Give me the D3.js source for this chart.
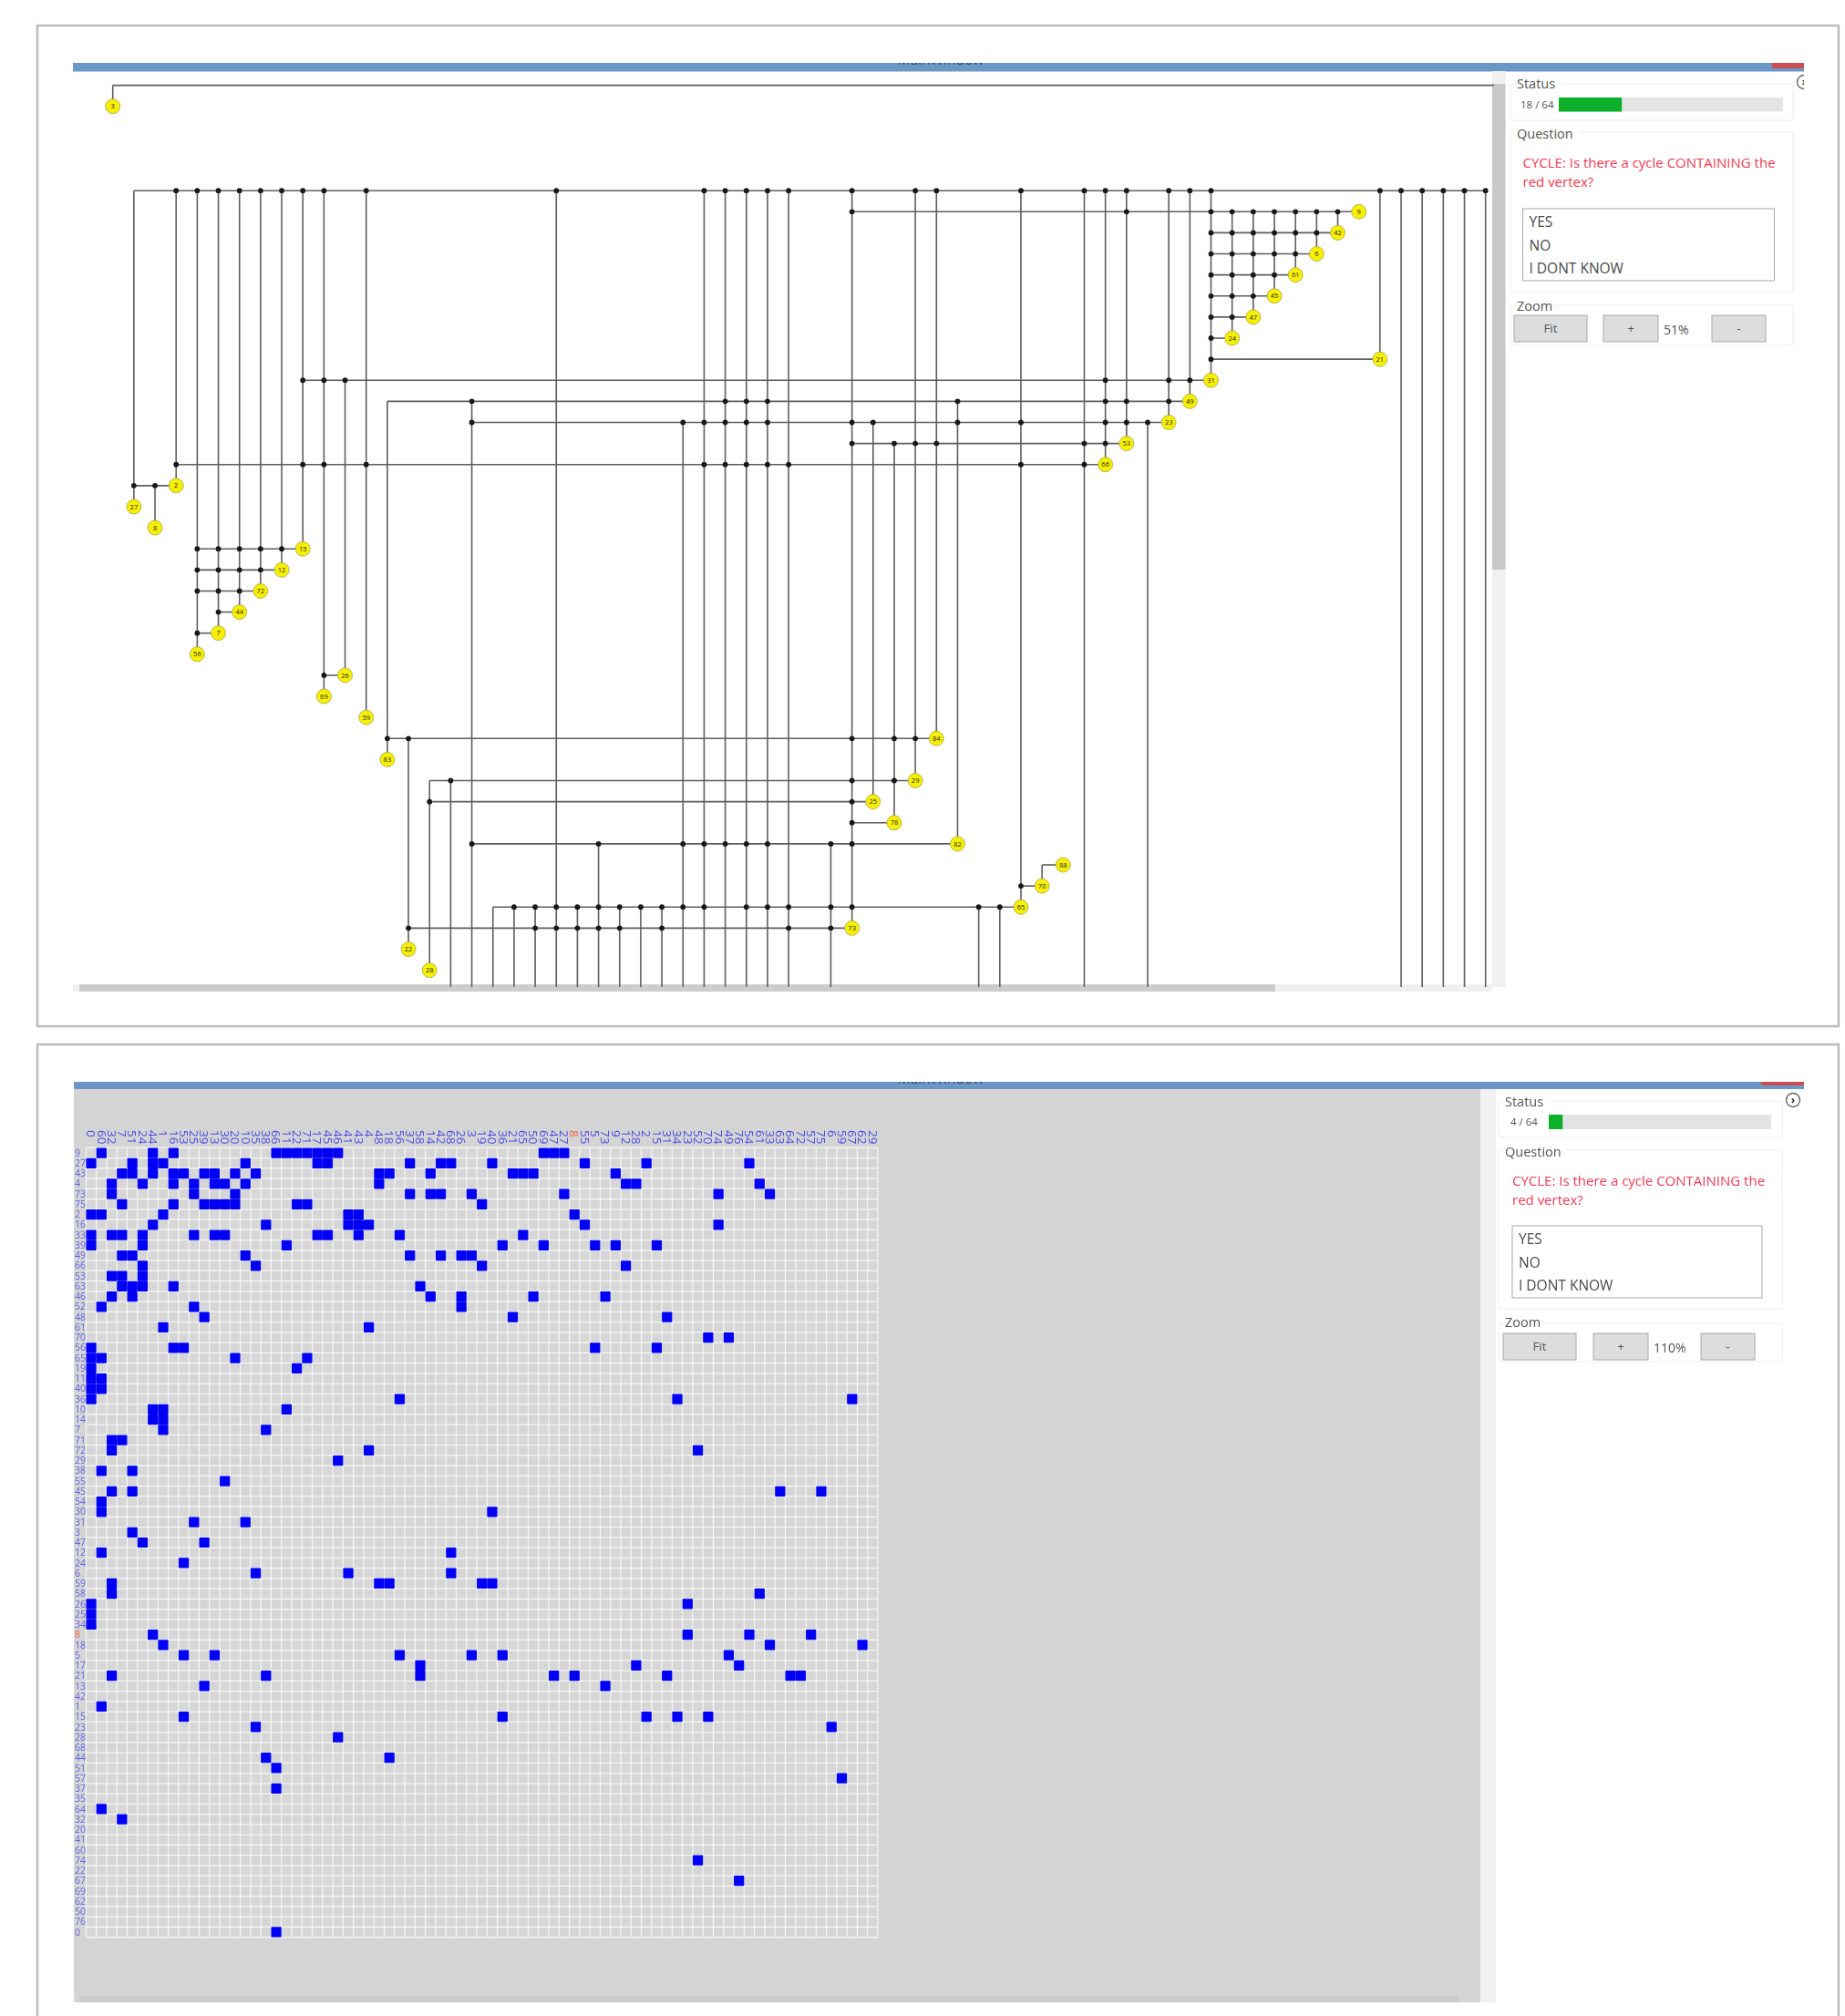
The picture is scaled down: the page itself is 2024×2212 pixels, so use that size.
<!DOCTYPE html>
<html>
<head>
<meta charset="utf-8">
<style>
  html, body { margin: 0; background: #fff; }
  svg { display: block; filter: blur(0.75px); font-family: "Open Sans", "Noto Sans", sans-serif; }
</style>
<script src="https://cdn.jsdelivr.net/npm/d3@7"></script>
</head>
<body>
<script>
// bottom row where the long wires run under the scrollbar
const cut = 41.8;

// graph nodes: label, column, row
const graphNodes = [
  ["3", 0, 0], ["27", 1, 19], ["8", 2, 20], ["2", 3, 18], ["56", 4, 26], ["7", 5, 25], ["44", 6, 24],
  ["72", 7, 23], ["12", 8, 22], ["15", 9, 21], ["69", 10, 28], ["26", 11, 27], ["59", 12, 29], ["83", 13, 31],
  ["22", 14, 40], ["28", 15, 41], ["73", 35, 39], ["25", 36, 33], ["78", 37, 34], ["29", 38, 32], ["84", 39, 30],
  ["82", 40, 35], ["65", 43, 38], ["70", 44, 37], ["88", 45, 36], ["66", 47, 17], ["53", 48, 16], ["23", 50, 15],
  ["49", 51, 14], ["31", 52, 13], ["24", 53, 11], ["47", 54, 10], ["45", 55, 9], ["61", 56, 8], ["6", 57, 7],
  ["42", 58, 6], ["9", 59, 5], ["21", 60, 12],
];

// horizontal wires: row, from column, to column
const hWires = [
  [-1, 0, 65.4], [4, 1, 65], [5, 35, 59], [6, 52, 58], [7, 52, 57], [8, 52, 56], [9, 52, 55], [10, 52, 54],
  [11, 52, 53], [12, 52, 60], [13, 9, 52], [14, 13, 51], [15, 17, 50], [16, 35, 48], [17, 3, 47], [18, 1, 3],
  [21, 4, 9], [22, 4, 8], [23, 4, 7], [24, 5, 6], [25, 4, 5], [27, 10, 11], [30, 13, 39], [32, 15, 38],
  [33, 15, 36], [34, 35, 37], [35, 17, 40], [36, 44, 45], [37, 43, 44], [38, 18, 43], [39, 14, 35],
];

// vertical wires: column, from row, to row
const vWires = [
  [0, -1, 0], [1, 4, 19], [2, 18, 20], [3, 4, 18], [4, 4, 26], [5, 4, 25], [6, 4, 24], [7, 4, 23], [8, 4, 22],
  [9, 4, 21], [10, 4, 28], [11, 13, 27], [12, 4, 29], [13, 14, 31], [14, 30, 40], [15, 32, 41], [16, 32, cut],
  [17, 14, cut], [18, 38, cut], [19, 38, cut], [20, 38, cut], [21, 4, cut], [22, 38, cut], [23, 35, cut],
  [24, 38, cut], [25, 38, cut], [26, 38, cut], [27, 15, cut], [28, 4, cut], [29, 4, cut], [30, 4, cut],
  [31, 4, cut], [32, 4, cut], [34, 35, cut], [35, 4, 39], [36, 15, 33], [37, 16, 34], [38, 4, 32], [39, 4, 30],
  [40, 14, 35], [41, 38, cut], [42, 38, cut], [43, 4, 38], [44, 36, 37], [46, 4, cut], [47, 4, 17], [48, 4, 16],
  [49, 15, cut], [50, 4, 15], [51, 4, 14], [52, 4, 13], [53, 5, 11], [54, 5, 10], [55, 5, 9], [56, 5, 8],
  [57, 5, 7], [58, 5, 6], [60, 4, 12], [61, 4, cut], [62, 4, cut], [63, 4, cut], [64, 4, cut], [65, 4, cut],
];

// junction dots: row, columns
const junctions = [
  [4, [3, 4, 5, 6, 7, 8, 9, 10, 12, 21, 28, 29, 30, 31, 32, 35, 38, 39, 43, 46, 47, 48, 50, 51, 52, 60, 61, 62, 63, 64, 65]],
  [5, [35, 48, 52, 53, 54, 55, 56, 57, 58]],
  [6, [52, 53, 54, 55, 56, 57]],
  [7, [52, 53, 54, 55, 56]],
  [8, [52, 53, 54, 55]],
  [9, [52, 53, 54]],
  [10, [52, 53]],
  [11, [52]],
  [12, [52]],
  [13, [9, 10, 11, 47, 50, 51]],
  [14, [17, 29, 30, 31, 40, 47, 48, 50]],
  [15, [17, 27, 28, 29, 30, 31, 35, 36, 40, 43, 47, 48, 49]],
  [16, [35, 37, 38, 39, 46, 47]],
  [17, [3, 9, 10, 12, 28, 29, 30, 31, 32, 43, 46]],
  [18, [1, 2]],
  [21, [4, 5, 6, 7, 8]],
  [22, [4, 5, 6, 7]],
  [23, [4, 5, 6]],
  [24, [5]],
  [25, [4]],
  [27, [10]],
  [30, [13, 14, 35, 37, 38]],
  [32, [16, 35, 37]],
  [33, [15, 35]],
  [34, [35]],
  [35, [17, 23, 27, 28, 29, 30, 31, 34, 35]],
  [37, [43]],
  [38, [19, 20, 21, 22, 23, 24, 25, 26, 27, 28, 30, 31, 32, 34, 35, 41, 42]],
  [39, [14, 20, 21, 22, 23, 24, 26, 32, 34]],
];

// matrix labels, read as well as the blur allows
const colLabels = ["0","60","32","7","51","24","44","1","16","53","25","39","13","30","20","10","35","38","66","11","22","71","17","45","46","41","43","4","48","18","56","37","58","14","42","68","26","3","19","40","36","21","65","50","69","47","27","8","55","5","73","9","12","28","2","15","31","34","23","52","70","74","49","76","54","61","33","63","64","72","57","75","6","59","67","62","29"];
const rowLabels = ["9","27","43","4","73","75","2","16","33","39","49","66","53","63","46","52","48","61","70","56","65","19","11","40","36","10","14","7","71","72","29","38","55","45","54","30","31","3","47","12","24","6","59","58","26","25","34","8","18","5","17","21","13","42","1","15","23","28","68","44","51","57","37","35","64","32","20","41","60","74","22","67","69","62","50","76","0"];
const redIndex = 47;

// filled matrix cells: row, columns
const matrixCells = [
  [0, [1, 6, 8, 18, 19, 20, 21, 22, 23, 24, 44, 45, 46]],
  [1, [0, 4, 6, 7, 15, 22, 23, 31, 34, 35, 39, 48, 54, 64]],
  [2, [3, 4, 6, 8, 9, 11, 12, 14, 16, 28, 29, 33, 41, 42, 43, 51]],
  [3, [2, 5, 8, 10, 12, 13, 15, 28, 52, 53, 65]],
  [4, [2, 10, 14, 31, 33, 34, 37, 46, 61, 66]],
  [5, [3, 8, 11, 12, 13, 14, 20, 21, 38]],
  [6, [0, 1, 7, 25, 26, 47]],
  [7, [6, 17, 25, 26, 27, 48, 61]],
  [8, [0, 2, 3, 5, 10, 12, 13, 22, 23, 26, 30, 42]],
  [9, [0, 5, 19, 40, 44, 49, 51, 55]],
  [10, [3, 4, 15, 31, 34, 36, 37]],
  [11, [5, 16, 38, 52]],
  [12, [2, 3, 5]],
  [13, [3, 4, 5, 8, 32]],
  [14, [2, 4, 33, 36, 43, 50]],
  [15, [1, 10, 36]],
  [16, [11, 41, 56]],
  [17, [7, 27]],
  [18, [60, 62]],
  [19, [0, 8, 9, 49, 55]],
  [20, [0, 1, 14, 21]],
  [21, [0, 20]],
  [22, [0, 1]],
  [23, [0, 1]],
  [24, [0, 30, 57, 74]],
  [25, [6, 7, 19]],
  [26, [6, 7]],
  [27, [7, 17]],
  [28, [2, 3]],
  [29, [2, 27, 59]],
  [30, [24]],
  [31, [1, 4]],
  [32, [13]],
  [33, [2, 4, 67, 71]],
  [34, [1]],
  [35, [1, 39]],
  [36, [10, 15]],
  [37, [4]],
  [38, [5, 11]],
  [39, [1, 35]],
  [40, [9]],
  [41, [16, 25, 35]],
  [42, [2, 28, 29, 38, 39]],
  [43, [2, 65]],
  [44, [0, 58]],
  [45, [0]],
  [46, [0]],
  [47, [6, 58, 64, 70]],
  [48, [7, 66, 75]],
  [49, [9, 12, 30, 37, 40, 62]],
  [50, [32, 53, 63]],
  [51, [2, 17, 32, 45, 47, 56, 68, 69]],
  [52, [11, 50]],
  [54, [1]],
  [55, [9, 40, 54, 57, 60]],
  [56, [16, 72]],
  [57, [24]],
  [59, [17, 29]],
  [60, [18]],
  [61, [73]],
  [62, [18]],
  [64, [1]],
  [65, [3]],
  [69, [59]],
  [71, [63]],
  [76, [18]],
];

const questionLines = ["CYCLE: Is there a cycle CONTAINING the", "red vertex?"];
const answers = ["YES", "NO", "I DONT KNOW"];

const svg = d3.select("body").append("svg").attr("width", 2024).attr("height", 2212);
const defs = svg.append("defs");

const colX = d3.scaleLinear().domain([0, 65]).range([123.7, 1629.7]);
const rowY = d3.scaleLinear().domain([0, 41]).range([116.7, 1064.6]);
const matX = d3.scaleBand().domain(d3.range(77)).range([94.4, 963]);
const matY = d3.scaleBand().domain(d3.range(77)).range([1259.4, 2125.6]);

function box(g, x, y, w, h, fill, stroke) {
  return g.append("rect").attr("x", x).attr("y", y).attr("width", w).attr("height", h)
    .attr("fill", fill).attr("stroke", stroke || "none");
}

function drawFrame(y, h) {
  box(svg, 41, y, 1976, h, "#fff", "#bcbcbc").attr("stroke-width", 2.5);
}

function drawTitleBar(x, y, w, h, redX, redH) {
  box(svg, x, y, w, h, "#6a97c6");
  box(svg, redX, y, x + w - redX, redH, "#c9504f");
  defs.append("clipPath").attr("id", `clip-bar-${y}`).append("rect")
    .attr("x", x).attr("y", y).attr("width", w).attr("height", h);
  svg.append("text").attr("x", 1032).attr("y", y + 2).attr("text-anchor", "middle")
    .attr("font-size", 15.5).attr("fill", "#3b4a5c").attr("clip-path", `url(#clip-bar-${y})`).text("MainWindow");
}

function label(g, x, y, text, size, fill) {
  return g.append("text").attr("x", x).attr("y", y).attr("dy", "0.35em")
    .attr("font-size", size).attr("fill", fill || "#555").text(text);
}

function groupBox(g, x, y, w, h, title, titleW, titleY) {
  box(g, x, y, w, h, "none", "#ececec").attr("rx", 2);
  box(g, x + 6, y - 6, titleW, 12, "#fff");
  label(g, x + 7, titleY, title, 14.5);
}

// status, question and zoom panels; sizes come from the screenshot
function drawSidePanel(p) {
  const g = svg.append("g");

  groupBox(g, p.x, p.statusY, p.w, p.statusH, "Status", 50, p.statusLabel);
  label(g, p.progressX - 42, p.progressY + p.progressH / 2, p.statusText, 11.5);
  box(g, p.progressX, p.progressY, p.progressW, p.progressH, "#e4e4e4");
  box(g, p.progressX, p.progressY, p.progressW * p.done / 64, p.progressH, "#0db02b");

  groupBox(g, p.x, p.questionY, p.w, p.questionH, "Question", 68, p.questionLabel);
  const clipId = `clip-q-${p.questionY}`;
  defs.append("clipPath").attr("id", clipId).append("rect")
    .attr("x", p.textX).attr("y", p.questionY).attr("width", p.textW).attr("height", 70);
  questionLines.forEach((line, i) => {
    label(g, p.textX, p.questionY + 34 + i * 20.5, line, 15, "#ee3a52").attr("clip-path", `url(#${clipId})`);
  });
  box(g, p.textX, p.listY, p.listW, 79, "#fff", "#a8a8a8");
  answers.forEach((answer, i) => {
    label(g, p.textX + 7, p.listY + 15 + i * 25.5, answer, 15.5, "#4b4b4b");
  });

  groupBox(g, p.x, p.zoomY, p.w, p.zoomH, "Zoom", 42, p.zoomLabel);
  const buttons = [
    [p.fitX, 80, "Fit"],
    [p.plusX, 60, "+"],
    [p.minusX, 59, "-"],
  ];
  buttons.forEach(([x, w, text]) => {
    box(g, x, p.zoomY + 11, w, 29, "#dddddd", "#a9a9a9");
    g.append("text").attr("x", x + w / 2).attr("y", p.zoomY + 25.5).attr("dy", "0.35em")
      .attr("text-anchor", "middle").attr("font-size", 13.5).attr("fill", "#555").text(text);
  });
  label(g, p.plusX + 66, p.zoomY + 27, p.zoomText, 14);

  defs.append("clipPath").attr("id", `clip-icon-${p.statusY}`).append("rect")
    .attr("x", p.iconX - 12).attr("y", p.iconY - 12).attr("width", p.iconClip).attr("height", 24);
  const icon = g.append("g").attr("clip-path", `url(#clip-icon-${p.statusY})`);
  icon.append("circle").attr("cx", p.iconX).attr("cy", p.iconY).attr("r", 7.5)
    .attr("fill", "#fff").attr("stroke", "#666").attr("stroke-width", 1.4);
  icon.append("text").attr("x", p.iconX).attr("y", p.iconY).attr("dy", "0.35em").attr("text-anchor", "middle")
    .attr("font-size", 12).attr("font-weight", 700).attr("fill", "#333").text("›");
}

function drawGraph() {
  const g = svg.append("g");

  g.selectAll("line.h").data(hWires).join("line").attr("class", "h")
    .attr("x1", (d) => colX(d[1])).attr("x2", (d) => colX(d[2]))
    .attr("y1", (d) => rowY(d[0])).attr("y2", (d) => rowY(d[0]));

  g.selectAll("line.v").data(vWires).join("line").attr("class", "v")
    .attr("x1", (d) => colX(d[0])).attr("x2", (d) => colX(d[0]))
    .attr("y1", (d) => rowY(d[1])).attr("y2", (d) => rowY(d[2]));

  g.selectAll("line").attr("stroke", "#5e5e5e").attr("stroke-width", 1.6);

  const dots = junctions.flatMap(([row, cols]) => cols.map((col) => ({ row, col })));
  g.selectAll("circle.dot").data(dots).join("circle").attr("class", "dot")
    .attr("cx", (d) => colX(d.col)).attr("cy", (d) => rowY(d.row)).attr("r", 2.9).attr("fill", "#181818");

  const node = g.selectAll("g.node").data(graphNodes).join("g").attr("class", "node")
    .attr("transform", (d) => `translate(${colX(d[1])},${rowY(d[2])})`);
  node.append("circle").attr("r", 8).attr("fill", "#f6f000").attr("stroke", "#a8a350").attr("stroke-width", 0.8);
  node.append("text").attr("dy", "0.35em").attr("text-anchor", "middle").attr("font-size", 7.5)
    .attr("fill", "#222").text((d) => d[0]);
}

function drawMatrix() {
  const g = svg.append("g");
  const band = matX.bandwidth();
  const rowBand = matY.bandwidth();

  box(g, 94.4, 1259.4, 77 * band, 77 * rowBand, "#d6d6d6");

  const stripes = d3.range(78);
  g.selectAll("line.gx").data(stripes).join("line").attr("class", "gx")
    .attr("x1", (d) => 94.4 + d * band).attr("x2", (d) => 94.4 + d * band)
    .attr("y1", 1259.4).attr("y2", 2125.6);
  g.selectAll("line.gy").data(stripes).join("line").attr("class", "gy")
    .attr("y1", (d) => 1259.4 + d * rowBand).attr("y2", (d) => 1259.4 + d * rowBand)
    .attr("x1", 94.4).attr("x2", 963);
  g.selectAll("line").attr("stroke", "#f6f6f6").attr("stroke-width", 1.2);

  const cells = matrixCells.flatMap(([row, cols]) => cols.map((col) => ({ row, col })));
  g.selectAll("rect.cell").data(cells).join("rect").attr("class", "cell")
    .attr("x", (d) => matX(d.col)).attr("y", (d) => matY(d.row))
    .attr("width", band).attr("height", rowBand).attr("rx", 1).attr("fill", "#0000f4");

  // column labels are turned a quarter, reading downwards
  g.selectAll("text.col").data(colLabels).join("text").attr("class", "col")
    .attr("transform", (d, i) => `translate(${matX(i) + band / 2},1240) rotate(90)`)
    .attr("dy", "0.35em").attr("font-size", 13.5)
    .attr("fill", (d, i) => (i === redIndex ? "#f06040" : "#4a4ae6")).text((d) => d);

  g.selectAll("text.row").data(rowLabels).join("text").attr("class", "row")
    .attr("x", 82).attr("y", (d, i) => matY(i) + rowBand / 2).attr("dy", "0.35em")
    .attr("font-size", 10.5).attr("fill", (d, i) => (i === redIndex ? "#f06040" : "#6060e6")).text((d) => d);
}

// top window
drawFrame(28, 1098);
drawTitleBar(80, 69, 1899, 9.5, 1944, 6);
box(svg, 1637, 78, 14.5, 1005, "#f0f0f0");
box(svg, 1637, 92, 14.5, 533, "#c9c9c9");
box(svg, 80, 1080, 1557, 8, "#f0f0f0");
box(svg, 87, 1080, 1312, 8, "#cdcdcd");
drawGraph();
drawSidePanel({
  x: 1657, w: 310, statusY: 92, statusH: 40, statusLabel: 91.5, statusText: "18 / 64", done: 18,
  progressX: 1710, progressY: 107, progressW: 246, progressH: 15.5,
  questionY: 145, questionH: 175, questionLabel: 147, textX: 1670.5, textW: 279, listY: 229, listW: 276,
  zoomY: 335, zoomH: 44, zoomLabel: 335.5, fitX: 1661, plusX: 1759, minusX: 1878, zoomText: "51%",
  iconX: 1979, iconY: 90, iconClip: 12,
});

// bottom window
drawFrame(1146, 1090);
drawTitleBar(81, 1187, 1898, 8, 1932, 4);
box(svg, 81, 1195, 1543, 1002, "#d4d4d4");
box(svg, 87, 2190, 1513, 7, "#cbcbcb");
box(svg, 1624, 1195, 17, 1002, "#f1f1f1");
drawMatrix();
drawSidePanel({
  x: 1644, w: 311, statusY: 1208, statusH: 40, statusLabel: 1208.5, statusText: "4 / 64", done: 4,
  progressX: 1699, progressY: 1223, progressW: 244, progressH: 16,
  questionY: 1262, questionH: 174, questionLabel: 1264, textX: 1659, textW: 278, listY: 1345, listW: 274,
  zoomY: 1452, zoomH: 42, zoomLabel: 1451, fitX: 1649, plusX: 1748, minusX: 1866, zoomText: "110%",
  iconX: 1967, iconY: 1207, iconClip: 24,
});
</script>
</body>
</html>
